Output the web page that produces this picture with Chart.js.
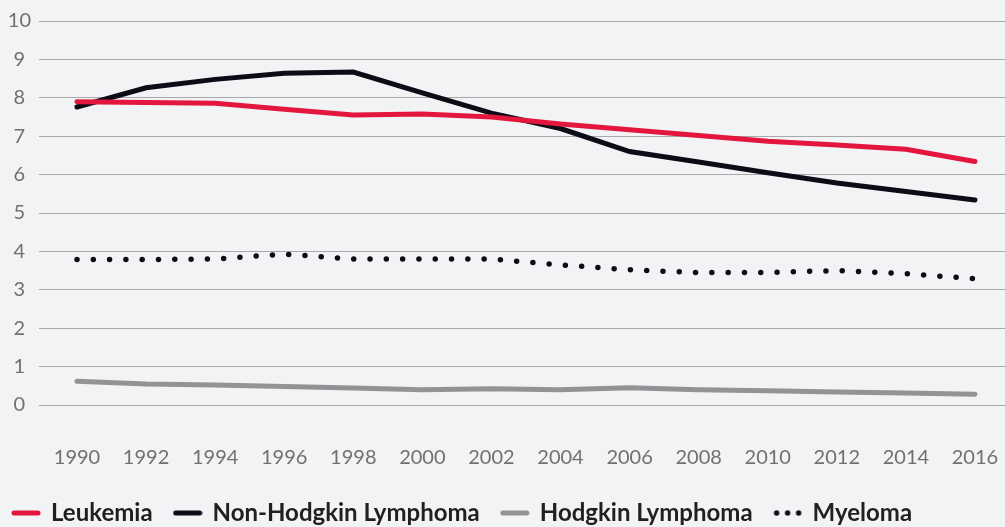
<!DOCTYPE html>
<html>
<head>
<meta charset="utf-8">
<script src="https://cdn.jsdelivr.net/npm/chart.js@4"></script>
<style>
  html, body { margin: 0; padding: 0; background: #f2f3f5; }
  #wrap { width: 1005px; height: 527px; position: relative; }
</style>
</head>
<body>
<div id="wrap"><canvas id="chart"></canvas></div>
<script>
const years = [1990, 1992, 1994, 1996, 1998, 2000, 2002, 2004, 2006, 2008, 2010, 2012, 2014, 2016];
const leukemia = [7.9, 7.88, 7.86, 7.7, 7.55, 7.58, 7.5, 7.32, 7.17, 7.02, 6.87, 6.77, 6.66, 6.34];
const nonHodgkin = [7.76, 8.26, 8.48, 8.64, 8.67, 8.13, 7.6, 7.2, 6.6, 6.33, 6.05, 5.78, 5.56, 5.34];
const hodgkin = [0.62, 0.55, 0.52, 0.48, 0.44, 0.4, 0.42, 0.4, 0.45, 0.4, 0.37, 0.34, 0.31, 0.28];
const myeloma = [3.79, 3.79, 3.8, 3.93, 3.8, 3.8, 3.8, 3.65, 3.52, 3.45, 3.45, 3.5, 3.42, 3.29];
const yTicks = [0, 1, 2, 3, 4, 5, 6, 7, 8, 9, 10];

function toPoints(values) {
  return years.map((yr, i) => ({ x: yr, y: values[i] }));
}

function lineIcon(color) {
  const c = document.createElement('canvas');
  c.width = 30; c.height = 8;
  const g = c.getContext('2d');
  g.strokeStyle = color; g.lineWidth = 5; g.lineCap = 'round';
  g.beginPath(); g.moveTo(3, 4); g.lineTo(27, 4); g.stroke();
  return c;
}

function dotsIcon(color) {
  const c = document.createElement('canvas');
  c.width = 30; c.height = 8;
  const g = c.getContext('2d');
  g.fillStyle = color;
  [4, 15, 26].forEach(x => { g.beginPath(); g.arc(x, 4, 2.7, 0, Math.PI * 2); g.fill(); });
  return c;
}

const icons = [lineIcon('#e3173e'), lineIcon('#0c0c16'), lineIcon('#929395'), dotsIcon('#0c0c16')];

// nudge the legend to where the original puts it
const shiftLegend = {
  id: 'shiftLegend',
  afterLayout(chart) {
    chart.legend.left -= 9;
    chart.legend.top += 8;
  }
};

new Chart(document.getElementById('chart'), {
  type: 'line',
  data: {
    datasets: [
      { label: 'Leukemia', data: toPoints(leukemia), borderColor: '#e3173e', borderWidth: 5, borderCapStyle: 'round' },
      { label: 'Non-Hodgkin Lymphoma', data: toPoints(nonHodgkin), borderColor: '#0c0c16', borderWidth: 5, borderCapStyle: 'round' },
      { label: 'Hodgkin Lymphoma', data: toPoints(hodgkin), borderColor: '#929395', borderWidth: 5, borderCapStyle: 'round' },
      { label: 'Myeloma', data: toPoints(myeloma), borderColor: '#0c0c16', borderWidth: 5.5, borderCapStyle: 'round', borderDash: [0, 16.3] }
    ]
  },
  options: {
    responsive: true,
    maintainAspectRatio: false,
    animation: false,
    elements: { point: { radius: 0 }, line: { tension: 0 } },
    layout: { padding: { left: 0, right: 0, top: 21, bottom: 0 } },
    scales: {
      x: {
        type: 'linear',
        min: 1988.9,
        max: 2016.87,
        afterBuildTicks: axis => { axis.ticks = years.map(v => ({ value: v })); },
        afterFit: axis => {
          axis.height = 66;
          axis.paddingLeft = 0;
          axis.paddingRight = 0;
        },
        grid: { display: false },
        border: { display: false },
        ticks: {
          autoSkip: false,
          maxRotation: 0,
          padding: 33,
          color: '#707070',
          font: { family: 'Lato', size: 20 },
          callback: v => String(v)
        }
      },
      y: {
        min: 0,
        max: 10,
        afterBuildTicks: axis => { axis.ticks = yTicks.map(v => ({ value: v })); },
        afterFit: axis => {
          axis.width = 39;
          axis.paddingTop = 0;
          axis.paddingBottom = 0;
        },
        grid: { color: '#a9a9ab', lineWidth: 1, drawTicks: false },
        border: { display: false },
        ticks: {
          padding: 8,
          crossAlign: 'center',
          color: '#707070',
          font: { family: 'Lato', size: 20 }
        }
      }
    },
    plugins: {
      tooltip: { enabled: false },
      legend: {
        position: 'bottom',
        align: 'start',
        labels: {
          usePointStyle: true,
          pointStyleWidth: 26,
          boxHeight: 8,
          padding: 22,
          color: '#231f20',
          font: { family: 'Lato', size: 24, weight: 'bold' },
          generateLabels(chart) {
            const items = Chart.defaults.plugins.legend.labels.generateLabels(chart);
            items.forEach((it, i) => { it.pointStyle = icons[i]; });
            return items;
          }
        }
      }
    }
  },
  plugins: [shiftLegend]
});
</script>
</body>
</html>
